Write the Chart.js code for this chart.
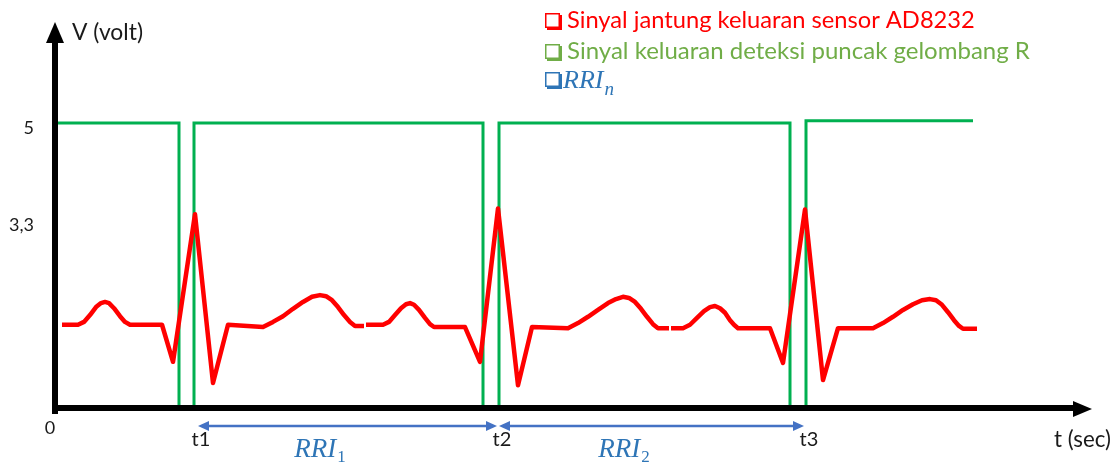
<!DOCTYPE html>
<html><head><meta charset="utf-8">
<script src="https://cdn.jsdelivr.net/npm/chart.js@4/dist/chart.umd.min.js"></script>
<style>html,body{margin:0;padding:0;background:#fff;overflow:hidden}canvas{display:block}</style>
</head><body>
<canvas id="c" width="1115" height="466"></canvas>
<script>
// ---- DATA (time in arbitrary units, voltage in volts) ----
const ecgTime = [7,23,29,35,41,46,50,54,59,65,70,75,107,118,140,158,173,208,218,228,238,248,257,265,271,277,283,289,295,300,309,310,311,328,334,340,346,351,355,359,364,370,375,379,410,425,443,463,477,513,523,533,543,553,561,568,574,580,586,592,598,603,614,615,616,628,635,642,649,655,660,665,670,675,679,683,715,728,750,768,783,818,828,838,848,858,867,875,881,887,893,899,904,908,922];
const ecgVolt = [1.46,1.46,1.51,1.63,1.77,1.84,1.86,1.84,1.75,1.61,1.51,1.46,1.46,0.81,3.40,0.44,1.46,1.42,1.51,1.61,1.74,1.86,1.95,1.98,1.96,1.89,1.77,1.63,1.51,1.44,1.44,null,1.46,1.46,1.51,1.63,1.75,1.82,1.84,1.81,1.72,1.58,1.47,1.42,1.42,0.81,3.50,0.40,1.42,1.40,1.49,1.60,1.72,1.84,1.91,1.95,1.93,1.86,1.74,1.60,1.47,1.40,1.40,null,1.40,1.40,1.46,1.58,1.70,1.77,1.79,1.75,1.67,1.54,1.46,1.40,1.40,0.79,3.48,0.49,1.40,1.40,1.49,1.60,1.72,1.82,1.89,1.91,1.89,1.81,1.68,1.54,1.44,1.39,1.39];
const peakTime = [3,124,124,139,139,428,428,444,444,735,735,751,751,918];
const peakVolt = [5,5,0,0,5,5,0,0,5,5,0,0,5.04,5.04];
const rPeakTimes = [142,443,750];
const rPeakLabels = ['t1','t2','t3'];
const rriSubscripts = ['1','2'];
const yTickValues = [5, 3.3];
const yTickLabels = ['5', '3,3'];
const originLabel = '0';
const yAxisTitle = 'V (volt)';
const xAxisTitle = 't (sec)';
const legendLabels = ['Sinyal jantung keluaran sensor AD8232', 'Sinyal keluaran deteksi puncak gelombang R', 'RRI'];
const legendSub = 'n';

const toXY = (xs, ys) => xs.map((x, i) => ({x: x, y: ys[i]}));

const SANS = 'Lato, "Open Sans", sans-serif';
const SERIF = '"Liberation Serif", "DejaVu Serif", serif';
const RED = '#ff0000', GREEN_LINE = '#00b050', GREEN_TXT = '#70ad47', BLUE_TXT = '#2e75b6', BLUE_ARR = '#4472c4';

function fitSize(ctx, text, family, target, base) {
  ctx.font = base + 'px ' + family;
  const w = ctx.measureText(text).width;
  return base * target / w;
}
function box(ctx, x, y, s, color) {
  ctx.save();
  ctx.fillStyle = color;
  ctx.fillRect(x + 2, y + 2, s, s);
  ctx.fillStyle = '#fff';
  ctx.fillRect(x, y, s, s);
  ctx.strokeStyle = color; ctx.lineWidth = 1.5;
  ctx.strokeRect(x + 0.75, y + 0.75, s - 1.5, s - 1.5);
  ctx.restore();
}
function arrowHead(ctx, tipX, tipY, dir, len, half) {
  ctx.beginPath();
  ctx.moveTo(tipX, tipY);
  ctx.lineTo(tipX - dir * len, tipY - half);
  ctx.lineTo(tipX - dir * len, tipY + half);
  ctx.closePath();
  ctx.fill();
}
function rriLabel(ctx, cx, base, sub, big, small) {
  ctx.font = 'italic ' + big + 'px ' + SERIF;
  const w = ctx.measureText('RRI').width;
  ctx.font = 'italic ' + small + 'px ' + SERIF;
  const ws = ctx.measureText(sub).width;
  const sx = cx === null ? null : cx - (w + ws) / 2;
  return {w: w, ws: ws, sx: sx};
}

const decor = {
  id: 'decor',
  afterDatasetsDraw(chart) {
    const ctx = chart.ctx, xs = chart.scales.x, ys = chart.scales.y;
    const x0 = xs.getPixelForValue(0), y0 = ys.getPixelForValue(0);
    const top = chart.chartArea.top, right = chart.chartArea.right;
    ctx.save();
    // axes
    ctx.strokeStyle = '#000'; ctx.fillStyle = '#000'; ctx.lineWidth = 6;
    ctx.beginPath(); ctx.moveTo(x0, y0 + 6); ctx.lineTo(x0, top + 20); ctx.stroke();
    ctx.beginPath(); ctx.moveTo(x0 - 3, y0); ctx.lineTo(right - 18, y0); ctx.stroke();
    ctx.beginPath(); ctx.moveTo(x0, top); ctx.lineTo(x0 - 9, top + 21); ctx.lineTo(x0 + 9, top + 21); ctx.closePath(); ctx.fill();
    ctx.beginPath(); ctx.moveTo(right, y0 + 1); ctx.lineTo(right - 19, y0 - 7); ctx.lineTo(right - 19, y0 + 9); ctx.closePath(); ctx.fill();

    // axis texts
    ctx.fillStyle = '#1a1a1a';
    ctx.textBaseline = 'alphabetic';
    ctx.font = fitSize(ctx, yAxisTitle, SANS, 71, 20).toFixed(2) + 'px ' + SANS;
    ctx.textAlign = 'left'; ctx.fillText(yAxisTitle, x0 + 17, top + 18);
    ctx.font = fitSize(ctx, xAxisTitle, SANS, 57, 20).toFixed(2) + 'px ' + SANS;
    ctx.textAlign = 'right'; ctx.fillText(xAxisTitle, 1111, y0 + 39);
    ctx.font = '18px ' + SANS; ctx.textAlign = 'right'; ctx.textBaseline = 'middle';
    yTickValues.forEach((v, i) => ctx.fillText(yTickLabels[i], 34, ys.getPixelForValue(v) + 5));
    ctx.textAlign = 'center'; ctx.fillText(originLabel, 50, y0 + 20);
    ctx.font = '20px ' + SANS; ctx.textBaseline = 'middle';
    rPeakTimes.forEach((t, i) => ctx.fillText(rPeakLabels[i], xs.getPixelForValue(t) + 4, y0 + 32));

    // RRI arrows
    const ay = y0 + 18;
    ctx.lineWidth = 2.5;
    for (let i = 0; i < rPeakTimes.length - 1; i++) {
      const a = xs.getPixelForValue(rPeakTimes[i]) + 1, b = xs.getPixelForValue(rPeakTimes[i + 1]) - 1;
      ctx.strokeStyle = BLUE_ARR; ctx.fillStyle = BLUE_ARR;
      ctx.beginPath(); ctx.moveTo(a + 8, ay); ctx.lineTo(b - 8, ay); ctx.stroke();
      arrowHead(ctx, a, ay, -1, 11, 5);
      arrowHead(ctx, b, ay, 1, 11, 5);
      const cx = (a + b) / 2 - 28;
      const m = rriLabel(ctx, cx, 0, rriSubscripts[i], 27, 17);
      ctx.fillStyle = BLUE_TXT; ctx.textAlign = 'left'; ctx.textBaseline = 'alphabetic';
      ctx.font = 'italic 27px ' + SERIF; ctx.fillText('RRI', m.sx, y0 + 49);
      ctx.font = '17px ' + SERIF; ctx.fillText(rriSubscripts[i], m.sx + m.w + 1, y0 + 54);
    }

    // legend
    const lx = 545;
    const rows = [[legendLabels[0], RED, 28, 408], [legendLabels[1], GREEN_TXT, 59, 463]];
    rows.forEach(r => {
      box(ctx, lx, r[2] - 15, 15, r[1]);
      const s = fitSize(ctx, r[0], SANS, r[3], 20);
      ctx.font = s.toFixed(2) + 'px ' + SANS; ctx.fillStyle = r[1]; ctx.textAlign = 'left'; ctx.textBaseline = 'alphabetic';
      ctx.fillText(r[0], 567, r[2]);
    });
    box(ctx, lx, 72, 15, BLUE_TXT);
    ctx.fillStyle = BLUE_TXT; ctx.font = 'italic 26px ' + SERIF;
    ctx.fillText(legendLabels[2], 563, 88);
    const wr = ctx.measureText(legendLabels[2]).width;
    ctx.font = 'italic 19px ' + SERIF; ctx.fillText(legendSub, 563 + wr + 1, 95);
    ctx.restore();
  }
};

new Chart(document.getElementById('c'), {
  type: 'line',
  data: {
    datasets: [
      { label: legendLabels[1], data: toXY(peakTime, peakVolt), borderColor: GREEN_LINE, borderWidth: 3, pointRadius: 0, tension: 0, borderJoinStyle: 'miter', clip: false, order: 2 },
      { label: legendLabels[0], data: toXY(ecgTime, ecgVolt), borderColor: RED, borderWidth: 4.5, pointRadius: 0, tension: 0, borderJoinStyle: 'round', borderCapStyle: 'butt', spanGaps: false, clip: false, order: 1 }
    ]
  },
  options: {
    responsive: false, animation: false, devicePixelRatio: 1,
    layout: { padding: { left: 55, right: 23, top: 22, bottom: 58 } },
    plugins: { legend: { display: false }, tooltip: { enabled: false } },
    scales: {
      x: { type: 'linear', min: 0, max: 1037, display: false },
      y: { type: 'linear', min: 0, max: 6.77, display: false }
    }
  },
  plugins: [decor]
});
</script>
</body></html>
